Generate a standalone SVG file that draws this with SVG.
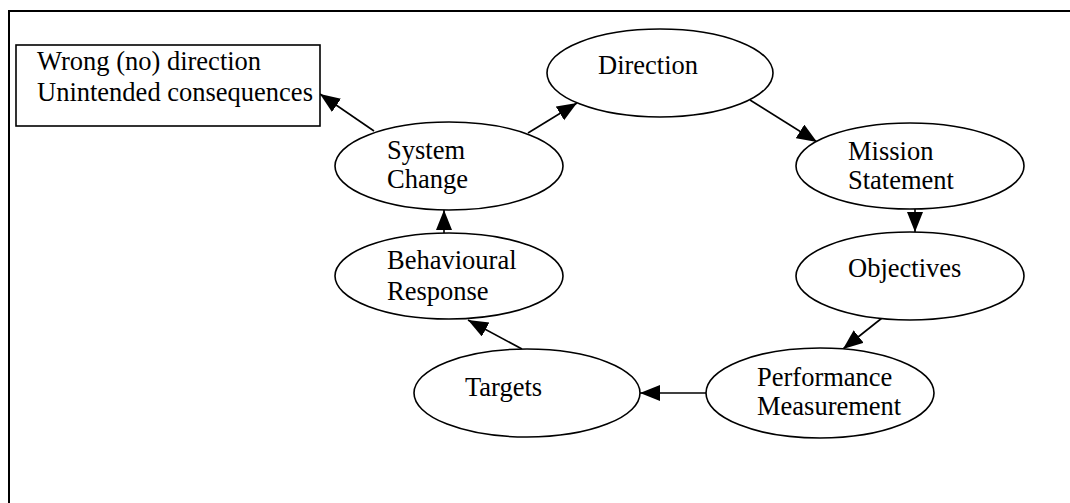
<svg xmlns="http://www.w3.org/2000/svg" width="1070" height="503" viewBox="0 0 1070 503">
<style>
.n{fill:#fff;stroke:#000;stroke-width:1.6}
.t{font-family:"Liberation Serif","Times New Roman",serif;font-size:26.5px;fill:#000}
.c{stroke:#000;stroke-width:1.6;fill:none;marker-end:url(#ah)}
</style>
<defs>
<marker id="ah" markerUnits="userSpaceOnUse" markerWidth="21" markerHeight="17" refX="20" refY="8" orient="auto" viewBox="0 0 21 17">
<path d="M0,0 L20,8 L0,16 z" fill="#000"/>
</marker>
</defs>
<rect width="1070" height="503" fill="#fff"/>
<g id="frame">
<path d="M9,503 L9,11 L1070,11" fill="none" stroke="#000" stroke-width="2"/>
</g>
<g id="connectors">
<line class="c" x1="374" y1="131" x2="320" y2="94"/>
<line class="c" x1="528" y1="133" x2="577" y2="103"/>
<line class="c" x1="750" y1="100" x2="817" y2="142"/>
<line class="c" x1="915" y1="209" x2="915" y2="232"/>
<line class="c" x1="882" y1="318" x2="843" y2="349"/>
<line class="c" x1="706" y1="393" x2="640" y2="393"/>
<line class="c" x1="522" y1="349" x2="468" y2="320"/>
<line class="c" x1="444" y1="233" x2="444" y2="210"/>
</g>
<g id="outcome">
<rect class="n" x="16" y="45" width="304" height="81"/>
<text class="t" x="37" y="70">Wrong (no) direction</text>
<text class="t" x="37" y="101">Unintended consequences</text>
</g>
<g id="direction">
<ellipse class="n" cx="660" cy="73" rx="113" ry="44"/>
<text class="t" x="598" y="74">Direction</text>
</g>
<g id="mission">
<ellipse class="n" cx="910" cy="166" rx="114" ry="43"/>
<text class="t" x="848" y="160">Mission</text>
<text class="t" x="848" y="189">Statement</text>
</g>
<g id="objectives">
<ellipse class="n" cx="910" cy="276" rx="114" ry="44"/>
<text class="t" x="848" y="277">Objectives</text>
</g>
<g id="performance">
<ellipse class="n" cx="820" cy="393" rx="114" ry="45"/>
<text class="t" x="757" y="386">Performance</text>
<text class="t" x="757" y="415">Measurement</text>
</g>
<g id="targets">
<ellipse class="n" cx="527" cy="393" rx="113" ry="44"/>
<text class="t" x="465" y="396">Targets</text>
</g>
<g id="behavioural">
<ellipse class="n" cx="449" cy="276" rx="114" ry="43"/>
<text class="t" x="387" y="269">Behavioural</text>
<text class="t" x="387" y="300">Response</text>
</g>
<g id="system">
<ellipse class="n" cx="449" cy="166" rx="114" ry="44"/>
<text class="t" x="387" y="159">System</text>
<text class="t" x="387" y="188">Change</text>
</g>
</svg>
